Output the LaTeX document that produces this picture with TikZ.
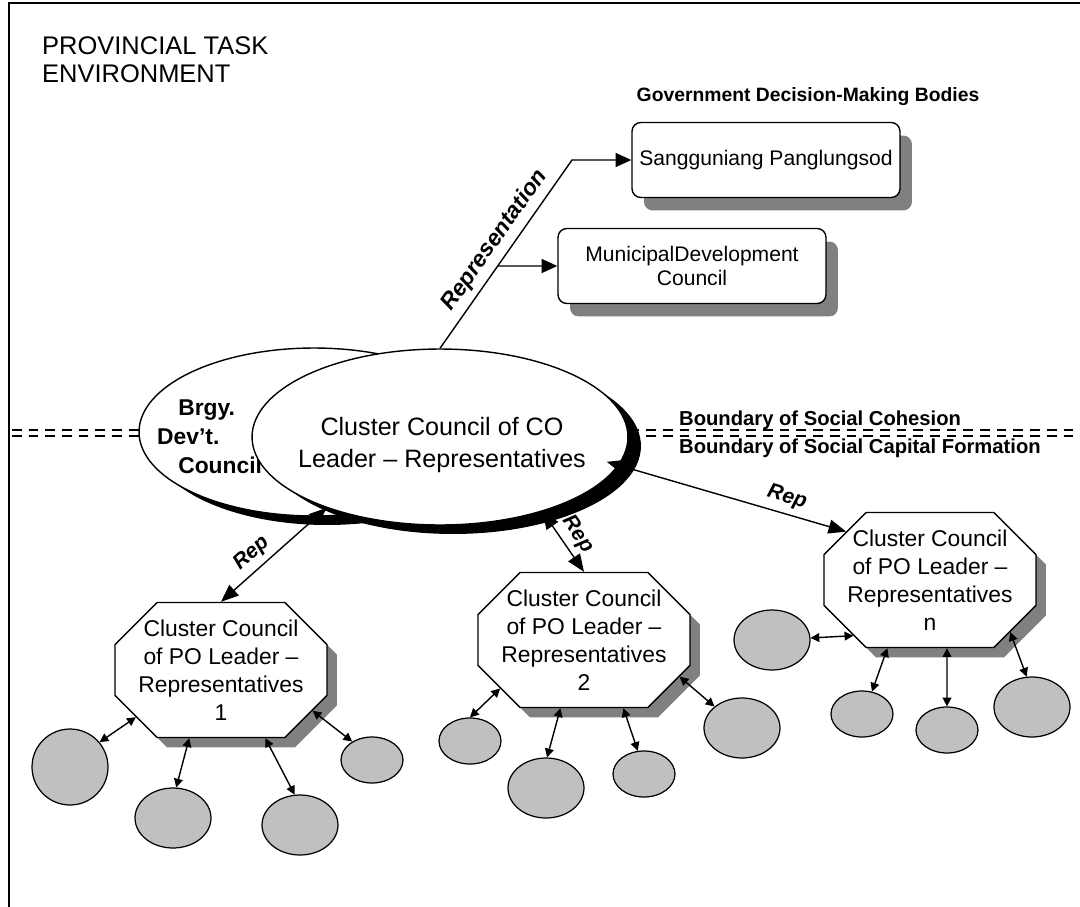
\documentclass[tikz,border=0pt]{standalone}
\usepackage{fontspec}
\setmainfont{Liberation Sans}
\usetikzlibrary{shapes.geometric,shapes.misc,shadows,arrows.meta}
\definecolor{shadegray}{HTML}{808080}
\definecolor{dotgray}{HTML}{C0C0C0}
\tikzset{
  council/.style={ellipse, draw, fill=white, line width=0.8pt, inner sep=0pt,
    drop shadow={shadow xshift=0.26cm, shadow yshift=-0.18cm, fill=black, opacity=1}},
  govbox/.style={rectangle, rounded corners=5pt, draw, fill=white, line width=0.8pt,
    minimum width=5.36cm, minimum height=1.5cm, align=center, font=\fontsize{12}{14}\selectfont,
    drop shadow={shadow xshift=0.24cm, shadow yshift=-0.26cm, fill=shadegray, opacity=1}},
  pocouncil/.style={chamfered rectangle, chamfered rectangle xsep=0.72cm, draw, fill=white,
    line width=0.8pt, inner xsep=-0.4cm, inner ysep=0pt, minimum width=4.24cm, minimum height=2.7cm,
    align=center, font=\fontsize{13}{16}\selectfont,
    drop shadow={shadow xshift=0.2cm, shadow yshift=-0.2cm, fill=shadegray, opacity=1}},
  member/.style={ellipse, draw, fill=dotgray, line width=0.7pt, inner sep=0pt,
    minimum width=1.52cm, minimum height=1.2cm},
  smallmember/.style={member, minimum width=1.24cm, minimum height=0.92cm},
  link/.style={<->, >={Triangle[length=5pt,width=5pt]}, line width=0.8pt},
  replink/.style={<->, >={Triangle[length=10pt,width=8pt]}, line width=0.8pt},
  replabel/.style={font=\fontsize{12}{14}\selectfont\bfseries\itshape, sloped, above},
  boundary/.style={line width=1.4pt, dash pattern=on 5.5pt off 4pt},
  boldnote/.style={font=\fontsize{11.5}{14}\selectfont\bfseries}
}
\begin{document}
\begin{tikzpicture}[x=0.02cm, y=-0.02cm]
\useasboundingbox (0,0) rectangle (1080,907);
\draw[line width=1.6pt] (9,907) -- (9,3) -- (1080,3);
\draw[boundary] (12,430) -- (1080,430);
\draw[boundary] (12,436) -- (1080,436);
\node[anchor=west, align=left, font=\fontsize{14.5}{16}\selectfont] (task) at (36,60) {PROVINCIAL TASK\\ENVIRONMENT};
\node[boldnote, anchor=west] (cohesion) at (673,420) {Boundary of Social Cohesion};
\node[boldnote, anchor=west] (capital) at (673,448) {Boundary of Social Capital Formation};
\node[boldnote, font=\fontsize{11}{14}\selectfont\bfseries] (govt) at (808,97) {Government Decision-Making Bodies};
\node[govbox] (sang) at (766,160) {Sangguniang Panglungsod};
\node[govbox] (mdc) at (692,266) {MunicipalDevelopment\\Council};
\node[council, minimum width=7.0cm, minimum height=3.36cm] (bdc) at (314,432) {};
\node[anchor=west, align=left, font=\fontsize{13}{16.5}\selectfont\bfseries] (bdctext) at (151,437) {\hspace{12pt}Brgy.\\Dev’t.\\\hspace{12pt}Council};
\node[council, minimum width=7.52cm, minimum height=3.52cm] (cco) at (440,437) {};
\node[align=center, font=\fontsize{14.3}{18}\selectfont] (ccotext) at (442,445) {Cluster Council of CO\\Leader – Representatives};
\node[pocouncil] (po1) at (221,670) {Cluster Council\\of PO Leader –\\Representatives\\1};
\node[pocouncil] (po2) at (584,640) {Cluster Council\\of PO Leader –\\Representatives\\2};
\node[pocouncil] (po3) at (930,580) {Cluster Council\\of PO Leader –\\Representatives\\n};
\node[member, minimum height=1.52cm] (m1a) at (70,767) {};
\node[member] (m1b) at (173,818) {};
\node[member] (m1c) at (300,825) {};
\node[smallmember] (m1d) at (372,760) {};
\node[smallmember] (m2a) at (470,741) {};
\node[member] (m2b) at (546,788) {};
\node[smallmember] (m2c) at (644,774) {};
\node[member] (m2d) at (742,728) {};
\node[member] (m3a) at (772,640) {};
\node[smallmember] (m3b) at (862,714) {};
\node[smallmember] (m3c) at (947,730) {};
\node[member] (m3d) at (1032,707) {};
\coordinate (bend) at (572,160);
\draw[->, >={Triangle[length=9pt,width=8pt]}, line width=0.8pt] (cco.north) -- node[pos=0.52, sloped, above, font=\fontsize{13}{15}\selectfont\bfseries\itshape] (repr) {Representation} (bend) -- (bend -| sang.west);
\draw[->, >={Triangle[length=9pt,width=8pt]}, line width=0.8pt] (intersection of cco.north--bend and mdc.west--mdc.east) -- (mdc.west);
\draw[replink] (po1.north) -- node[replabel, pos=0.39] (rep1) {Rep} (cco.212);
\draw[replink] (cco.324) -- node[replabel, pos=0.53] (rep2) {Rep} (po2.north);
\draw[replink, shorten <=-0.25cm] (cco.351) -- node[replabel, pos=0.72] (rep3) {Rep} (po3.150);
\draw[link] (po1.209) -- (m1a.40);
\draw[link] (po1.245) -- (m1b.84);
\draw[link] (po1.303) -- (m1c.100);
\draw[link] (po1.336) -- (m1d.137);
\draw[link] (po2.210) -- (m2a.90);
\draw[link] (po2.251) -- (m2b.88);
\draw[link] (po2.300) -- (m2c.105);
\draw[link] (po2.339) -- (m2d.142);
\draw[link] (po3.216) -- (m3a.3);
\draw[link] (po3.238) -- (m3b.66);
\draw[link] (po3.284) -- (m3c.90);
\draw[link] (po3.327) -- (m3d.100);
\end{tikzpicture}
\end{document}
